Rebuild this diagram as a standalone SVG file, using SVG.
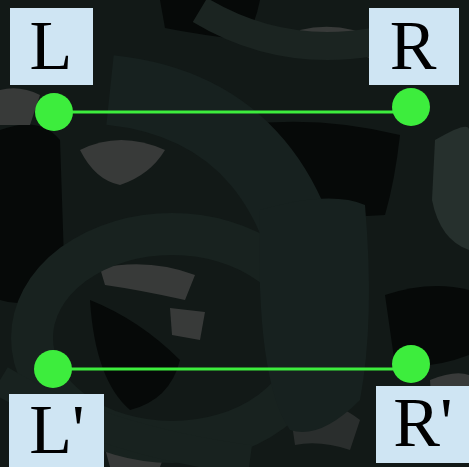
<svg xmlns="http://www.w3.org/2000/svg" width="469" height="467" viewBox="0 0 469 467">
<style>
.box{fill:#cfe5f3}
.lbl{font-family:"Liberation Serif","Times New Roman",serif;font-size:70px;fill:#000;text-anchor:middle}
.pt{fill:#3ded3d}
.edge{stroke:#3ded3d;stroke-width:3;fill:none}
.teal{fill:#17211f}
.gray{fill:#383a39}
.blk{fill:#060908}
</style>
<g id="background">
<rect width="469" height="467" fill="#121917"/>
<path class="blk" d="M0 130 Q40 115 60 140 L65 290 Q30 310 0 300 Z"/>
<path class="blk" d="M240 125 Q320 115 400 135 Q395 180 385 215 Q310 220 255 205 Z"/>
<path class="blk" d="M385 295 Q430 280 469 290 L469 355 Q430 370 395 365 Z"/>
<path class="blk" d="M160 0 L260 0 Q255 25 245 40 Q200 35 165 28 Z"/>
<path class="blk" d="M90 300 Q140 320 180 360 Q170 400 130 410 Q95 380 90 300 Z"/>
<path class="gray" d="M80 150 Q120 130 165 150 Q150 175 120 185 Q95 180 80 150 Z"/>
<path class="gray" d="M100 268 Q150 258 195 275 L185 300 Q140 290 105 285 Z"/>
<path class="gray" d="M170 308 L205 312 L200 340 L172 335 Z"/>
<path class="gray" d="M0 90 Q20 85 40 95 L30 125 L0 125 Z"/>
<path class="gray" d="M300 30 Q340 20 380 40 L375 60 Q340 45 305 55 Z"/>
<path class="gray" d="M430 380 Q455 370 469 375 L469 430 Q445 425 432 410 Z"/>
<path class="gray" d="M100 430 Q140 420 170 440 L160 467 L110 467 Z"/>
<path fill="#26302d" d="M435 140 Q469 120 469 130 L469 250 Q440 240 432 200 Z"/>
<path fill="#2a2e2d" d="M290 410 Q330 395 360 420 L350 450 Q320 440 295 445 Z"/>
<path fill="none" stroke="#17211f" stroke-width="70" d="M110 90 Q300 110 320 340"/>
<ellipse cx="172" cy="338" rx="140" ry="104" fill="none" stroke="#18221f" stroke-width="42"/>
<path class="teal" d="M260 210 Q330 190 365 205 Q375 320 360 400 Q320 440 290 430 Q255 380 260 210 Z"/>
<path fill="none" stroke="#18221f" stroke-width="30" d="M0 380 Q100 440 250 460"/>
<path fill="none" stroke="#1b2421" stroke-width="28" d="M200 10 Q300 70 420 30"/>
</g>
<g id="connectors">
<line class="edge" x1="54" y1="112" x2="410" y2="112"/>
<line class="edge" x1="54" y1="369" x2="410" y2="369"/>
</g>
<g id="node-L">
<rect class="box" x="10" y="8" width="83" height="77"/>
<text class="lbl" x="51" y="69">L</text>
<circle class="pt" cx="54" cy="112" r="19"/>
</g>
<g id="node-R">
<rect class="box" x="369" y="8" width="90" height="77"/>
<text class="lbl" x="413" y="69">R</text>
<circle class="pt" cx="411" cy="107" r="19"/>
</g>
<g id="node-Lp">
<rect class="box" x="9" y="394" width="95" height="73"/>
<text class="lbl" x="57" y="453">L'</text>
<circle class="pt" cx="53" cy="369" r="19"/>
</g>
<g id="node-Rp">
<rect class="box" x="376" y="386" width="93" height="77"/>
<text class="lbl" x="423" y="446">R'</text>
<circle class="pt" cx="411" cy="364" r="19"/>
</g>
</svg>
